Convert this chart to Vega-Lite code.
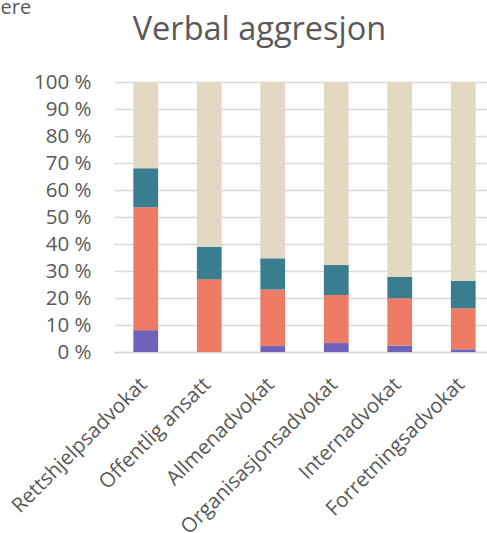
{
  "$schema": "https://vega.github.io/schema/vega-lite/v6.json",
  "autosize": {"type": "none"},
  "padding": {"left": 114, "top": 82, "right": 0, "bottom": 181},
  "width": 381,
  "height": 270,
  "background": "white",
  "config": {
    "font": "Open Sans",
    "view": {"stroke": null}
  },
  "title": {
    "text": "Verbal aggresjon",
    "fontSize": 32.5,
    "fontWeight": "normal",
    "color": "#595959",
    "anchor": "middle",
    "frame": "group",
    "dx": -45,
    "offset": -49
  },
  "data": {
    "values": [
      {"gruppe": "Rettshjelpsadvokat", "svar": "A", "rekke": 1, "andel": 8.1},
      {"gruppe": "Rettshjelpsadvokat", "svar": "B", "rekke": 2, "andel": 45.5},
      {"gruppe": "Rettshjelpsadvokat", "svar": "C", "rekke": 3, "andel": 14.5},
      {"gruppe": "Rettshjelpsadvokat", "svar": "D", "rekke": 4, "andel": 31.9},
      {"gruppe": "Offentlig ansatt", "svar": "A", "rekke": 1, "andel": 0},
      {"gruppe": "Offentlig ansatt", "svar": "B", "rekke": 2, "andel": 26.9},
      {"gruppe": "Offentlig ansatt", "svar": "C", "rekke": 3, "andel": 12.1},
      {"gruppe": "Offentlig ansatt", "svar": "D", "rekke": 4, "andel": 61.0},
      {"gruppe": "Allmenadvokat", "svar": "A", "rekke": 1, "andel": 2.2},
      {"gruppe": "Allmenadvokat", "svar": "B", "rekke": 2, "andel": 20.9},
      {"gruppe": "Allmenadvokat", "svar": "C", "rekke": 3, "andel": 11.6},
      {"gruppe": "Allmenadvokat", "svar": "D", "rekke": 4, "andel": 65.3},
      {"gruppe": "Organisasjonsadvokat", "svar": "A", "rekke": 1, "andel": 3.3},
      {"gruppe": "Organisasjonsadvokat", "svar": "B", "rekke": 2, "andel": 17.8},
      {"gruppe": "Organisasjonsadvokat", "svar": "C", "rekke": 3, "andel": 11.1},
      {"gruppe": "Organisasjonsadvokat", "svar": "D", "rekke": 4, "andel": 67.8},
      {"gruppe": "Internadvokat", "svar": "A", "rekke": 1, "andel": 2.4},
      {"gruppe": "Internadvokat", "svar": "B", "rekke": 2, "andel": 17.5},
      {"gruppe": "Internadvokat", "svar": "C", "rekke": 3, "andel": 8.0},
      {"gruppe": "Internadvokat", "svar": "D", "rekke": 4, "andel": 72.1},
      {"gruppe": "Forretningsadvokat", "svar": "A", "rekke": 1, "andel": 1.0},
      {"gruppe": "Forretningsadvokat", "svar": "B", "rekke": 2, "andel": 15.2},
      {"gruppe": "Forretningsadvokat", "svar": "C", "rekke": 3, "andel": 10.2},
      {"gruppe": "Forretningsadvokat", "svar": "D", "rekke": 4, "andel": 73.6}
    ]
  },
  "mark": {"type": "bar"},
  "encoding": {
    "x": {
      "field": "gruppe",
      "type": "nominal",
      "sort": null,
      "scale": {"paddingInner": 0.61, "paddingOuter": 0.305},
      "axis": {
        "title": null,
        "labelAngle": -45,
        "labelAlign": "right",
        "labelBaseline": "top",
        "labelFontSize": 20.5,
        "labelColor": "#595959",
        "labelPadding": 22,
        "labelOffset": -9,
        "labelLimit": 300,
        "ticks": false,
        "domainColor": "#D9D9D9",
        "domainWidth": 1.5
      }
    },
    "y": {
      "field": "andel",
      "type": "quantitative",
      "stack": "zero",
      "scale": {"domain": [0, 100], "nice": false},
      "axis": {
        "values": [0, 10, 20, 30, 40, 50, 60, 70, 80, 90, 100],
        "labelExpr": "datum.value + ' %'",
        "labelFontSize": 20.5,
        "labelColor": "#595959",
        "labelPadding": 23,
        "ticks": false,
        "domain": false,
        "gridColor": "#D9D9D9",
        "gridWidth": 1.5,
        "title": "ere",
        "titleAngle": 0,
        "titleAlign": "left",
        "titleBaseline": "alphabetic",
        "titleX": -114,
        "titleY": -69,
        "titleFontSize": 20,
        "titleFontWeight": "normal",
        "titleColor": "#595959"
      }
    },
    "color": {
      "field": "svar",
      "type": "nominal",
      "scale": {"domain": ["A", "B", "C", "D"], "range": ["#6F63B9", "#EE7B65", "#3A7D8E", "#E3D8C2"]},
      "legend": null
    },
    "order": {"field": "rekke", "type": "quantitative"}
  }
}
